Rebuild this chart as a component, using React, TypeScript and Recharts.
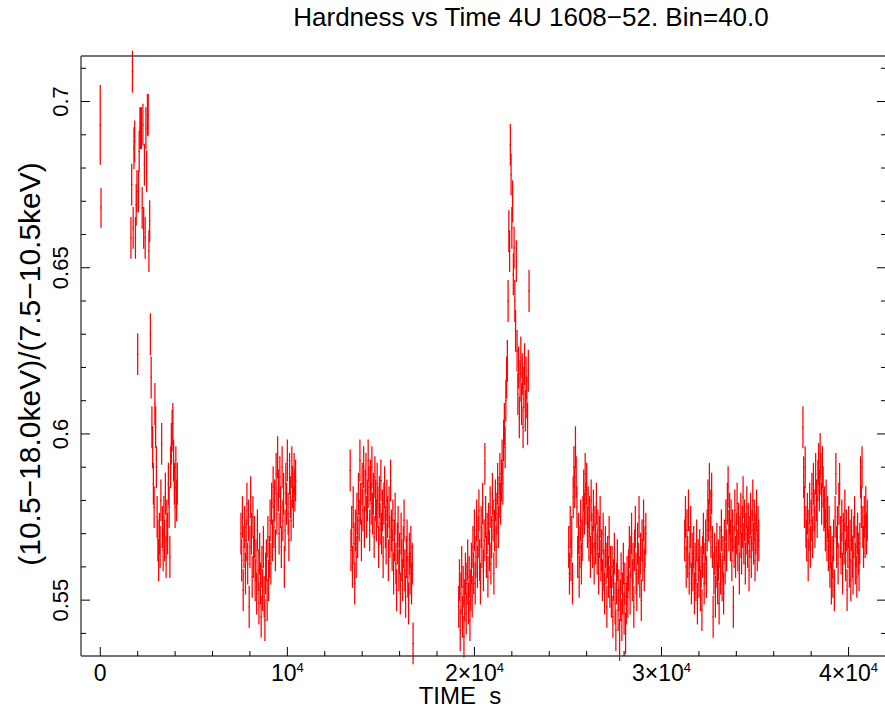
import React from "react";
import { ScatterChart, Scatter, XAxis, YAxis, ErrorBar } from "recharts";

// hardness ratio, 40 s bins, one array per continuous stretch of data
const BIN = 40;
const segmentStarts = [0, 1640, 7520, 13360, 19160, 25040, 31240, 37560];

const hrA = [0.693, 0.668];
const errA = [0.012, 0.006];

const hrB = [
  0.659, 0.675, 0.709, 0.662, 0.686, 0.688, 0.659, 0.669, 0.673, 0.624,
  0.673, 0.685, 0.692, 0.692, 0.692, 0.668, 0.693, 0.662, 0.681, 0.659,
  0.692, 0.679, 0.696, 0.696, 0.655, 0.664, 0.630, 0.617, 0.602, 0.596,
  0.585, 0.578, 0.609, 0.602, 0.590, 0.575, 0.568, 0.562, 0.570, 0.566,
  0.580, 0.597, 0.572, 0.565, 0.575, 0.568, 0.582, 0.563, 0.574, 0.570,
  0.585, 0.578, 0.563, 0.590, 0.597, 0.601, 0.603, 0.592, 0.585, 0.578,
  0.590, 0.580, 0.585,
];

const hrC = [
  0.570, 0.562, 0.575, 0.553, 0.566, 0.572, 0.558, 0.568, 0.579, 0.561,
  0.574, 0.548, 0.566, 0.581, 0.570, 0.557, 0.575, 0.563, 0.569, 0.556,
  0.562, 0.552, 0.571, 0.559, 0.549, 0.564, 0.555, 0.545, 0.560, 0.553,
  0.566, 0.551, 0.544, 0.558, 0.562, 0.550, 0.569, 0.556, 0.563, 0.574,
  0.561, 0.579, 0.568, 0.584, 0.572, 0.580, 0.565, 0.588, 0.576, 0.593,
  0.583, 0.570, 0.587, 0.578, 0.566, 0.590, 0.574, 0.582, 0.560, 0.571,
  0.585, 0.579, 0.592, 0.576, 0.568, 0.588, 0.581, 0.574, 0.590, 0.584,
  0.578, 0.588, 0.583, 0.586,
];

const hrD = [
  0.589, 0.565, 0.572, 0.560, 0.578, 0.567, 0.555, 0.571, 0.563, 0.576,
  0.569, 0.582, 0.574, 0.592, 0.579, 0.568, 0.585, 0.577, 0.590, 0.572,
  0.583, 0.588, 0.575, 0.580, 0.592, 0.584, 0.571, 0.586, 0.579, 0.590,
  0.576, 0.582, 0.569, 0.587, 0.580, 0.574, 0.585, 0.578, 0.566, 0.581,
  0.573, 0.586, 0.570, 0.577, 0.563, 0.579, 0.584, 0.572, 0.567, 0.580,
  0.575, 0.562, 0.578, 0.569, 0.586, 0.571, 0.565, 0.574, 0.558, 0.568,
  0.576, 0.561, 0.553, 0.567, 0.572, 0.559, 0.564, 0.552, 0.570, 0.562,
  0.556, 0.566, 0.574, 0.559, 0.551, 0.563, 0.568, 0.557, 0.549, 0.564,
  0.558, 0.566, 0.555, 0.561, 0.537,
];

const hrE = [
  0.548, 0.556, 0.541, 0.552, 0.560, 0.545, 0.554, 0.539, 0.550, 0.558,
  0.546, 0.555, 0.562, 0.549, 0.557, 0.544, 0.553, 0.561, 0.551, 0.566,
  0.558, 0.571, 0.555, 0.563, 0.574, 0.560, 0.569, 0.577, 0.562, 0.555,
  0.572, 0.566, 0.579, 0.559, 0.568, 0.591, 0.575, 0.563, 0.570, 0.557,
  0.573, 0.565, 0.578, 0.561, 0.569, 0.582, 0.574, 0.558, 0.571, 0.580,
  0.566, 0.576, 0.585, 0.572, 0.581, 0.588, 0.579, 0.586, 0.592, 0.585,
  0.598, 0.603, 0.596, 0.610, 0.617, 0.622, 0.640, 0.661, 0.655, 0.687,
  0.678, 0.662, 0.670, 0.648, 0.656, 0.640, 0.631, 0.652, 0.625, 0.612,
  0.620, 0.605, 0.616, 0.623, 0.609, 0.618, 0.602, 0.614, 0.621, 0.607,
  0.617, 0.611, 0.603, 0.619, 0.643,
];

const hrF = [
  0.566, 0.558, 0.572, 0.562, 0.569, 0.555, 0.581, 0.590, 0.584, 0.596,
  0.587, 0.578, 0.563, 0.570, 0.557, 0.566, 0.574, 0.561, 0.568, 0.575,
  0.583, 0.576, 0.588, 0.579, 0.585, 0.572, 0.578, 0.568, 0.575, 0.563,
  0.580, 0.570, 0.566, 0.577, 0.561, 0.572, 0.567, 0.579, 0.564, 0.571,
  0.558, 0.569, 0.575, 0.562, 0.565, 0.556, 0.570, 0.559, 0.552, 0.566,
  0.561, 0.548, 0.563, 0.557, 0.569, 0.554, 0.560, 0.551, 0.560, 0.545,
  0.556, 0.564, 0.549, 0.541, 0.555, 0.562, 0.547, 0.553, 0.538, 0.550,
  0.558, 0.544, 0.552, 0.561, 0.546, 0.555, 0.540, 0.549, 0.557, 0.551,
  0.559, 0.566, 0.552, 0.563, 0.570, 0.556, 0.561, 0.548, 0.565, 0.572,
  0.558, 0.553, 0.567, 0.561, 0.575, 0.557, 0.564, 0.550, 0.568, 0.562,
  0.574, 0.559, 0.566, 0.570,
];

const hrG = [
  0.568, 0.575, 0.560, 0.571, 0.563, 0.577, 0.558, 0.566, 0.572, 0.555,
  0.564, 0.559, 0.566, 0.552, 0.561, 0.556, 0.568, 0.549, 0.562, 0.557,
  0.565, 0.553, 0.560, 0.547, 0.563, 0.570, 0.555, 0.561, 0.568, 0.557,
  0.571, 0.580, 0.574, 0.585, 0.577, 0.569, 0.582, 0.566, 0.545, 0.558,
  0.564, 0.551, 0.560, 0.567, 0.555, 0.562, 0.549, 0.566, 0.558, 0.571,
  0.556, 0.563, 0.552, 0.568, 0.561, 0.574, 0.565, 0.579, 0.584, 0.571,
  0.576, 0.568, 0.574, 0.562, 0.571, 0.548, 0.566, 0.577, 0.563, 0.570,
  0.579, 0.565, 0.573, 0.558, 0.569, 0.576, 0.564, 0.572, 0.581, 0.567,
  0.574, 0.561, 0.570, 0.578, 0.566, 0.573, 0.559, 0.569, 0.576, 0.563,
  0.571, 0.580, 0.567, 0.574, 0.562, 0.570, 0.577, 0.565, 0.572, 0.568,
];

const hrH = [
  0.602, 0.587, 0.578, 0.590, 0.572, 0.568, 0.576, 0.562, 0.571, 0.579,
  0.566, 0.574, 0.582, 0.569, 0.585, 0.577, 0.572, 0.588, 0.580, 0.575,
  0.586, 0.591, 0.583, 0.594, 0.588, 0.579, 0.590, 0.584, 0.577, 0.578,
  0.571, 0.580, 0.568, 0.575, 0.565, 0.572, 0.560, 0.566, 0.555, 0.563,
  0.557, 0.568, 0.553, 0.575, 0.588, 0.566, 0.572, 0.561, 0.579, 0.585,
  0.569, 0.564, 0.574, 0.558, 0.570, 0.567, 0.577, 0.562, 0.571, 0.553,
  0.566, 0.572, 0.560, 0.568, 0.556, 0.571, 0.563, 0.558, 0.569, 0.575,
  0.561, 0.566, 0.557, 0.570, 0.564, 0.559, 0.567, 0.587, 0.578, 0.590,
  0.572, 0.566, 0.575, 0.569, 0.578, 0.570, 0.574,
];

const hrErr = 0.0063;

const xTicks = [
  0, 2000, 4000, 6000, 8000, 10000, 12000, 14000, 16000, 18000, 20000,
  22000, 24000, 26000, 28000, 30000, 32000, 34000, 36000, 38000, 40000,
];
const yTicks = [
  0.54, 0.55, 0.56, 0.57, 0.58, 0.59, 0.6, 0.61, 0.62, 0.63, 0.64, 0.65,
  0.66, 0.67, 0.68, 0.69, 0.7, 0.71,
];
const yMajor = [0.55, 0.6, 0.65, 0.7];

const segments = [hrA, hrB, hrC, hrD, hrE, hrF, hrG, hrH];
const data = segments.flatMap((vals, s) =>
  vals.map((hr, i) => ({
    t: segmentStarts[s] + i * BIN,
    hr,
    err: s === 0 ? errA[i] : hrErr,
  }))
);

const FONT = "'Liberation Sans', Arial, Helvetica, sans-serif";
const RED = "#ff0000";

function BottomTick(props: any) {
  const { x, y, payload } = props;
  const v = payload.value;
  const major = v % 10000 === 0;
  let label: React.ReactNode = null;
  if (major) {
    const m = v / 10000;
    label =
      m === 0 ? (
        "0"
      ) : (
        <>
          {m === 1 ? "10" : `${m}×10`}
          <tspan dy={-9} fontSize={13}>
            4
          </tspan>
        </>
      );
  }
  return (
    <g>
      <line x1={x} y1={y} x2={x} y2={y - (major ? 9 : 5)} stroke="#000" strokeWidth={1} />
      {major && (
        <text x={x} y={y + 25} textAnchor="middle" fontSize={23} fontFamily={FONT} fill="#000">
          {label}
        </text>
      )}
    </g>
  );
}

function TopTick(props: any) {
  const { x, y, payload } = props;
  const major = payload.value % 10000 === 0;
  return <line x1={x} y1={y} x2={x} y2={y + (major ? 9 : 5)} stroke="#000" strokeWidth={1} />;
}

function LeftTick(props: any) {
  const { x, y, payload } = props;
  const v = payload.value;
  const major = yMajor.some((m) => Math.abs(m - v) < 1e-6);
  return (
    <g>
      <line x1={x} y1={y} x2={x + (major ? 9 : 5)} y2={y} stroke="#000" strokeWidth={1} />
      {major && (
        <text
          x={x - 13}
          y={y}
          transform={`rotate(-90 ${x - 13} ${y})`}
          textAnchor="middle"
          fontSize={22}
          fontFamily={FONT}
          fill="#000"
        >
          {String(v)}
        </text>
      )}
    </g>
  );
}

function RightTick(props: any) {
  const { x, y, payload } = props;
  const major = yMajor.some((m) => Math.abs(m - payload.value) < 1e-6);
  return <line x1={x} y1={y} x2={x - (major ? 9 : 5)} y2={y} stroke="#000" strokeWidth={1} />;
}

function Mark(props: any) {
  const { cx, cy } = props;
  return <line x1={cx - 0.8} y1={cy} x2={cx + 0.8} y2={cy} stroke={RED} strokeWidth={1} />;
}

export default function App() {
  const xDomain = [-1030, 42000];
  const yDomain = [0.5332, 0.7137];
  const axisLine = { stroke: "#444", strokeWidth: 1.4 };
  return (
    <div
      style={{
        position: "absolute",
        left: 0,
        top: 0,
        width: 885,
        height: 709,
        overflow: "hidden",
        background: "#fff",
      }}
    >
      <ScatterChart width={887} height={709} margin={{ top: 55, right: 0, bottom: 52, left: 80 }}>
        <XAxis
          dataKey="t"
          type="number"
          domain={xDomain}
          allowDataOverflow
          ticks={xTicks}
          interval={0}
          height={1}
          tickSize={0}
          tickMargin={0}
          axisLine={axisLine}
          tickLine={false}
          tick={<BottomTick />}
        />
        <XAxis
          xAxisId="top"
          orientation="top"
          type="number"
          domain={xDomain}
          allowDataOverflow
          ticks={xTicks}
          interval={0}
          height={1}
          tickSize={0}
          tickMargin={0}
          axisLine={axisLine}
          tickLine={false}
          tick={<TopTick />}
        />
        <YAxis
          dataKey="hr"
          type="number"
          domain={yDomain}
          allowDataOverflow
          ticks={yTicks}
          interval={0}
          width={1}
          tickSize={0}
          tickMargin={0}
          axisLine={axisLine}
          tickLine={false}
          tick={<LeftTick />}
        />
        <YAxis
          yAxisId="right"
          orientation="right"
          type="number"
          domain={yDomain}
          allowDataOverflow
          ticks={yTicks}
          interval={0}
          width={1}
          tickSize={0}
          tickMargin={0}
          axisLine={axisLine}
          tickLine={false}
          tick={<RightTick />}
        />
        <Scatter data={data} dataKey="hr" shape={<Mark />} isAnimationActive={false}>
          <ErrorBar dataKey="err" direction="y" width={0} stroke={RED} strokeWidth={1.25} isAnimationActive={false} />
        </Scatter>
      </ScatterChart>
      <svg
        width={885}
        height={709}
        style={{ position: "absolute", left: 0, top: 0, pointerEvents: "none" }}
        fontFamily={FONT}
      >
        <text x={531} y={26} textAnchor="middle" fontSize={26} fill="#000">
          Hardness vs Time 4U 1608−52. Bin=40.0
        </text>
        <text x={460} y={704} textAnchor="middle" fontSize={24} fill="#000">
          TIME{"\u00a0\u00a0"}s
        </text>
        <text
          x={40}
          y={364}
          transform="rotate(-90 40 364)"
          textAnchor="middle"
          fontSize={30}
          fill="#000"
        >
          (10.5−18.0keV)/(7.5−10.5keV)
        </text>
      </svg>
    </div>
  );
}
